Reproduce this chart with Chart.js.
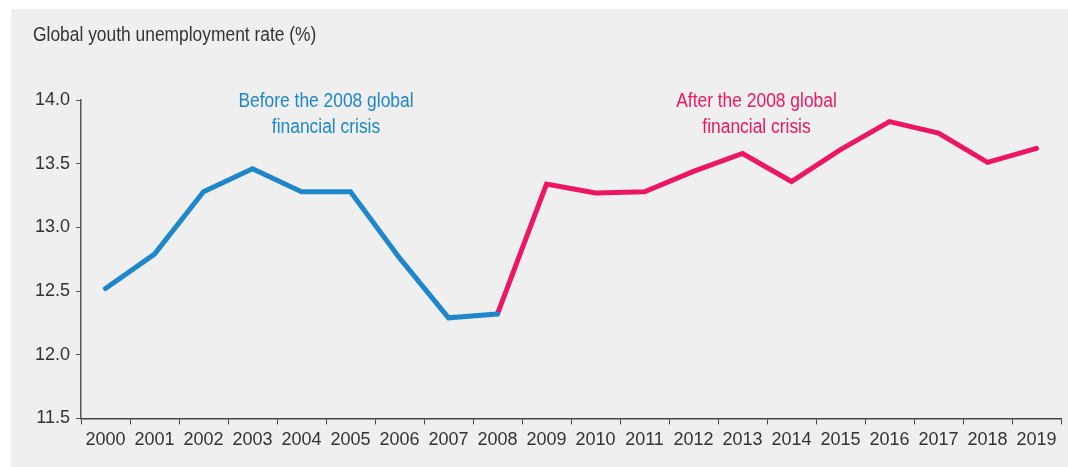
<!DOCTYPE html>
<html>
<head>
<meta charset="utf-8">
<script src="https://cdn.jsdelivr.net/npm/chart.js@4"></script>
<style>
  html, body { margin: 0; padding: 0; background: #fff; }
  #wrap { width: 1068px; height: 467px; }
</style>
</head>
<body>
<div id="wrap"><canvas id="myChart" width="1068" height="467"></canvas></div>
<script>
var years = ["2000","2001","2002","2003","2004","2005","2006","2007","2008","2009",
             "2010","2011","2012","2013","2014","2015","2016","2017","2018","2019"];
var before = [12.52, 12.79, 13.28, 13.46, 13.28, 13.28, 12.76, 12.29, 12.32];
var after = [12.32, 13.34, 13.27, 13.28, 13.44, 13.58, 13.36, 13.61, 13.83, 13.74, 13.51, 13.62];
var yTicks = [11.5, 12.0, 12.5, 13.0, 13.5, 14.0];

var FONT = "'Liberation Sans', Arial, sans-serif";
var BLUE = '#1d87c9';
var PINK = '#ec1763';

// pad the two series out to the full year range
var beforeData = years.map(function (y, i) { return i < before.length ? before[i] : null; });
var afterData = years.map(function (y, i) {
  var j = i - (before.length - 1);
  return j >= 0 ? after[j] : null;
});

// narrow text, the original uses a condensed face
function narrowText(c, txt, x, y) {
  c.save();
  c.translate(x, y);
  c.scale(0.87, 1);
  c.fillText(txt, 0, 0);
  c.restore();
}

var panel = {
  id: 'panel',
  beforeDraw: function (chart) {
    var c = chart.ctx;
    c.save();
    c.fillStyle = '#efefef';
    c.fillRect(11, 9, 1057, 458);
    c.restore();
  },
  afterDraw: function (chart) {
    var c = chart.ctx, x = chart.scales.x, y = chart.scales.y;
    var top = y.getPixelForValue(14.0);
    c.save();
    c.font = '20px ' + FONT;
    c.textBaseline = 'middle';
    c.fillStyle = '#333';
    c.textAlign = 'left';
    narrowText(c, 'Global youth unemployment rate (%)', 33, 35);

    c.textAlign = 'center';
    c.fillStyle = BLUE;
    var bx = (x.getPixelForValue(4) + x.getPixelForValue(5)) / 2;
    narrowText(c, 'Before the 2008 global', bx, top + 1);
    narrowText(c, 'financial crisis', bx, top + 27);

    c.fillStyle = PINK;
    var ax = x.getPixelForValue(13) + 14;
    narrowText(c, 'After the 2008 global', ax, top + 1);
    narrowText(c, 'financial crisis', ax, top + 27);
    c.restore();
  }
};

var ctx = document.getElementById('myChart').getContext('2d');
var chart = new Chart(ctx, {
  type: 'line',
  data: {
    labels: years,
    datasets: [{
      label: 'Before',
      data: beforeData,
      borderColor: BLUE,
      borderWidth: 5,
      pointRadius: 0,
      borderJoinStyle: 'miter',
      borderCapStyle: 'round'
    }, {
      label: 'After',
      data: afterData,
      borderColor: PINK,
      borderWidth: 5,
      pointRadius: 0,
      borderJoinStyle: 'miter',
      borderCapStyle: 'round'
    }]
  },
  options: {
    responsive: false,
    animation: false,
    layout: { padding: { left: 33, right: 7, top: 100, bottom: 11 } },
    plugins: { legend: { display: false }, tooltip: { enabled: false } },
    scales: {
      x: {
        offset: true,
        grid: { offset: true, drawOnChartArea: false, tickLength: 6, color: '#444' },
        border: { color: '#444', width: 1.5 },
        ticks: { color: '#333', font: { family: FONT, size: 18 }, padding: 5, maxRotation: 0, autoSkip: false }
      },
      y: {
        min: 11.5,
        max: 14.0,
        afterBuildTicks: function (s) { s.ticks = yTicks.map(function (v) { return { value: v }; }); },
        afterFit: function (s) { s.width = 48; },
        grid: { drawOnChartArea: false, tickLength: 5, color: '#555' },
        border: { color: '#555', width: 1.5 },
        ticks: {
          color: '#333', font: { family: FONT, size: 18 }, padding: 6,
          callback: function (v) { return Number(v).toFixed(1); }
        }
      }
    }
  },
  plugins: [panel]
});
</script>
</body>
</html>
